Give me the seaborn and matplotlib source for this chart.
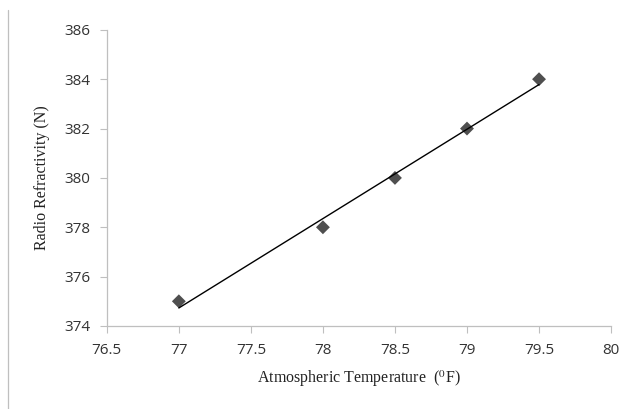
import matplotlib
matplotlib.use("Agg")
import matplotlib.pyplot as plt
from matplotlib.lines import Line2D
import seaborn as sns
import pandas as pd

# data
temperature = [77, 78, 78.5, 79, 79.5]
refractivity = [375, 378, 380, 382, 384]
x_ticks = [76.5, 77, 77.5, 78, 78.5, 79, 79.5, 80]
y_ticks = [374, 376, 378, 380, 382, 384, 386]

df = pd.DataFrame({"temp": temperature, "N": refractivity})

sns.set_theme(style="white")
plt.rcParams["mathtext.fontset"] = "stix"

fig = plt.figure(figsize=(6.21, 4.09), dpi=100)
ax = fig.add_axes([0.172, 0.203, 0.812, 0.724])

# trendline drawn over the markers, as in the reference
sns.regplot(data=df, x="temp", y="N", ax=ax, ci=None, marker="D",
            scatter_kws={"s": 50, "color": "#4f4f4f", "edgecolor": "none",
                         "alpha": 1, "zorder": 2},
            line_kws={"color": "black", "linewidth": 1.0, "zorder": 3})

ax.set_xlim(76.5, 80)
ax.set_ylim(374, 386)
ax.set_xticks(x_ticks)
ax.set_yticks(y_ticks)
ax.set_xticklabels([f"{v:g}" for v in x_ticks])
ax.set_yticklabels([str(v) for v in y_ticks])

for lab in ax.get_xticklabels() + ax.get_yticklabels():
    lab.set_family("Open Sans")
    lab.set_fontsize(11)
    lab.set_color("#333333")

ax.tick_params(axis="both", which="both", direction="out", length=5,
               width=0.8, color="#bfbfbf", bottom=True, left=True, pad=7)

sns.despine(ax=ax)
for side in ["left", "bottom"]:
    ax.spines[side].set_color("#bfbfbf")
    ax.spines[side].set_linewidth(0.9)

ax.set_xlabel(r"Atmospheric Temperature  ($^{0}$F)", family="Liberation Serif",
              fontsize=11.5, labelpad=8, color="#222222")
ax.set_ylabel("Radio Refractivity (N)", family="Liberation Serif",
              fontsize=11.5, labelpad=10, color="#222222")

# thin border line at the far left of the picture
fig.add_artist(Line2D([0.013, 0.013], [0.0, 0.975], transform=fig.transFigure,
                      color="#bfbfbf", linewidth=0.9))

fig.savefig("out.png", dpi=100)
